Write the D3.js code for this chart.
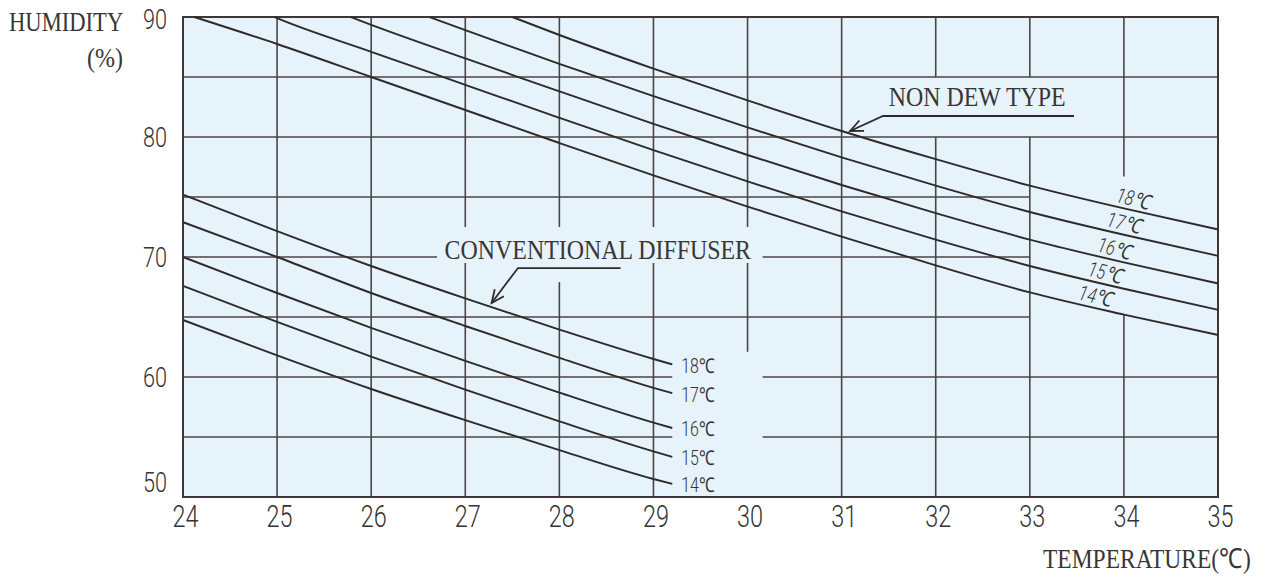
<!DOCTYPE html>
<html><head><meta charset="utf-8">
<script src="https://cdn.jsdelivr.net/npm/d3@7"></script>
<style>
html,body{margin:0;padding:0;background:#fff;}
svg{display:block;}
</style></head>
<body>
<svg id="chart" width="1266" height="577"></svg>
<script>
// ---------- data ----------
const temps = [24,25,26,27,28,29,30,31,32,33,34,35];
const xTicks = [24,25,26,27,28,29,30,31,32,33,34,35];
const yTicks = [50,60,70,80,90];
const dewLabels = ["14℃","15℃","16℃","17℃","18℃"];

// NON DEW TYPE: temperature where each curve leaves 90 %, then values at integer temps
const nonDewStart = [24.12, 24.97, 25.78, 26.62, 27.5];
const nonDew14 = [null, 87.75, 85.0, 82.25, 79.5, 76.8, 74.2, 71.7, 69.3, 67.05, 65.2, 63.5];
const nonDew15 = [null, 89.9, 87.1, 84.35, 81.6, 78.9, 76.3, 73.8, 71.45, 69.25, 67.35, 65.6];
const nonDew16 = [null, null, 89.35, 86.55, 83.8, 81.1, 78.5, 76.0, 73.65, 71.45, 69.55, 67.8];
const nonDew17 = [null, null, null, 88.9, 86.1, 83.4, 80.8, 78.3, 75.95, 73.75, 71.85, 70.1];
const nonDew18 = [null, null, null, null, 88.5, 85.7, 83.05, 80.5, 78.15, 75.95, 74.05, 72.3];
const nonDewLabelTemp = [33.7, 33.8, 33.9, 34.0, 34.1];

// CONVENTIONAL DIFFUSER
const convTemps = [24, 25, 26, 27, 28, 29, 29.2];
const conv14 = [64.75, 61.8, 59.0, 56.4, 53.9, 51.5, 51.1];
const conv15 = [67.6, 64.6, 61.7, 58.95, 56.3, 53.8, 53.35];
const conv16 = [70.0, 67.0, 64.1, 61.35, 58.7, 56.2, 55.75];
const conv17 = [72.9, 70.0, 67.0, 64.25, 61.6, 59.1, 58.65];
const conv18 = [75.2, 72.15, 69.25, 66.55, 63.95, 61.5, 61.05];

// ---------- drawing ----------
const svg = d3.select("#chart");
const x = d3.scaleLinear().domain([24,35]).range([183,1218]);
const y = d3.scaleLinear().domain([50,90]).range([497,17]);
const ink = "#2e2a2a", gridCol = "#4a4545";
const numFont = "Roboto,'Liberation Sans Narrow',sans-serif";
const serif = "'Liberation Serif','Times New Roman',serif";

svg.append("rect").attr("x",x(24)).attr("y",y(90))
  .attr("width",x(35)-x(24)).attr("height",y(50)-y(90)).attr("fill","#e6f3fa");

// grid with gaps left for annotations (layout, in data units)
const vSegs = {
  25:[[50,90]],26:[[50,90]],
  27:[[72.5,90],[50,69.5]],
  28:[[72.5,90],[50,67.9]],
  29:[[72.5,90],[50,69.5]],
  30:[[72.5,90],[62.1,69.5]],
  31:[[50,90]],
  32:[[85,90],[50,80]],
  33:[[85,90],[50,80]],
  34:[[76.7,90],[50,65.2]]
};
const hSegs = {
  55:[[24,29.2],[30.16,35]],
  60:[[24,29.2],[30.16,35]],
  65:[[24,33]],
  70:[[24,26.7],[30.16,33]],
  75:[[24,33]],
  80:[[24,35]],
  85:[[24,35]]
};
const g = svg.append("g").attr("stroke",gridCol).attr("stroke-width",1.6);
Object.entries(vSegs).forEach(([t,segs])=>segs.forEach(s=>{
  g.append("line").attr("x1",x(+t)).attr("x2",x(+t)).attr("y1",y(s[0])).attr("y2",y(s[1]));
}));
Object.entries(hSegs).forEach(([h,segs])=>segs.forEach(s=>{
  g.append("line").attr("y1",y(+h)).attr("y2",y(+h)).attr("x1",x(s[0])).attr("x2",x(s[1]));
}));

svg.append("rect").attr("x",x(24)).attr("y",y(90))
  .attr("width",x(35)-x(24)).attr("height",y(50)-y(90))
  .attr("fill","none").attr("stroke","#3d3838").attr("stroke-width",2);

// curves
const line = d3.line().x(d=>x(d.t)).y(d=>y(d.h)).curve(d3.curveMonotoneX);
const nonDewSeries = [nonDew14,nonDew15,nonDew16,nonDew17,nonDew18];
const nonDewPts = nonDewSeries.map((arr,i)=>{
  const pts=[{t:nonDewStart[i],h:90}];
  arr.forEach((v,j)=>{ if(v!==null && temps[j]>nonDewStart[i]) pts.push({t:temps[j],h:v}); });
  return pts;
});
const convSeries = [conv14,conv15,conv16,conv17,conv18];
const convPts = convSeries.map(arr=>arr.map((v,j)=>({t:convTemps[j],h:v})));

svg.append("g").selectAll("path").data(nonDewPts.concat(convPts)).join("path")
  .attr("d",line).attr("fill","none").attr("stroke",ink).attr("stroke-width",1.9);

// labels at conventional curve ends
svg.append("g").selectAll("text").data(convPts).join("text")
  .attr("x",d=>x(d[d.length-1].t)+9)
  .attr("y",d=>y(d[d.length-1].h)+1)
  .attr("dy","0.36em")
  .attr("font-family",numFont).attr("font-weight",300).attr("font-size",20.5).attr("fill","#333")
  .attr("textLength",33).attr("lengthAdjust","spacingAndGlyphs")
  .text((d,i)=>dewLabels[i]);

// rotated labels on NON DEW curves
function interp(pts,t){
  for(let k=1;k<pts.length;k++){
    if(t<=pts[k].t){const a=pts[k-1],b=pts[k];return a.h+(b.h-a.h)*(t-a.t)/(b.t-a.t);}
  }
  return pts[pts.length-1].h;
}
svg.append("g").selectAll("text").data(nonDewPts).join("text")
  .attr("transform",(d,i)=>{
    const t=nonDewLabelTemp[i];
    return `translate(${x(t)},${y(interp(d,t))-12}) rotate(14)`;
  })
  .attr("text-anchor","middle").attr("dy","0.36em")
  .attr("font-family",numFont).attr("font-weight",300).attr("font-style","italic").attr("font-size",21).attr("fill","#333")
  .attr("textLength",34).attr("lengthAdjust","spacingAndGlyphs")
  .text((d,i)=>dewLabels[i]);

// annotations with leader arrows
function leader(pts){
  const p = pts.map(q=>[x(q[0]),y(q[1])]);
  svg.append("path").attr("d",d3.line()(p)).attr("fill","none")
    .attr("stroke",ink).attr("stroke-width",1.8);
  const tip=p[p.length-1], prev=p[p.length-2];
  const ang=Math.atan2(prev[1]-tip[1],prev[0]-tip[0]);
  const L=14, w=0.42;
  const a1=[tip[0]+L*Math.cos(ang+w),tip[1]+L*Math.sin(ang+w)];
  const a2=[tip[0]+L*Math.cos(ang-w),tip[1]+L*Math.sin(ang-w)];
  svg.append("path").attr("d",d3.line()([a1,tip,a2])).attr("fill","none")
    .attr("stroke",ink).attr("stroke-width",1.8);
}
leader([[28.65,69.08],[27.56,69.08],[27.28,66.17]]);
leader([[33.47,81.75],[31.44,81.75],[31.09,80.5]]);

// serif labels: natural width font, stretched vertically like the scan
function serifText(txt, xLeft, yBase, size, sy){
  svg.append("text")
    .attr("transform",`translate(${xLeft},${yBase}) scale(1,${sy})`)
    .attr("font-family",serif).attr("font-size",size).attr("fill","#3a3535").text(txt);
}
serifText("CONVENTIONAL DIFFUSER", x(26.78), y(69.83), 23.9, 1.13);
serifText("NON DEW TYPE", x(31.5), y(82.58), 23.9, 1.18);
serifText("HUMIDITY", 9, 31, 22.6, 1.25);
serifText("(%)", 87, 67, 24, 1.1);
serifText("TEMPERATURE(℃)", 1043, 568, 23.5, 1.18);

// axes
const xa = svg.append("g").attr("transform",`translate(0,${y(50)})`)
  .call(d3.axisBottom(x).tickValues(xTicks).tickSize(0).tickPadding(8).tickFormat(d3.format("d")));
xa.select(".domain").remove();
xa.selectAll("text").attr("font-family",numFont).attr("font-weight",300).attr("font-size",31).attr("fill","#333")
  .attr("textLength",26).attr("lengthAdjust","spacingAndGlyphs").attr("dx","2");

const ya = svg.append("g").attr("transform",`translate(${x(24)},0)`)
  .call(d3.axisLeft(y).tickValues(yTicks).tickSize(0).tickPadding(16).tickFormat(d3.format("d")));
ya.select(".domain").remove();
ya.selectAll("text").attr("font-family",numFont).attr("font-weight",300).attr("font-size",27).attr("fill","#333")
  .attr("textLength",24).attr("lengthAdjust","spacingAndGlyphs")
  .attr("dy",d=>d===50?"-0.2em":(d===90?"0.42em":"0.34em"));
</script>
</body></html>
